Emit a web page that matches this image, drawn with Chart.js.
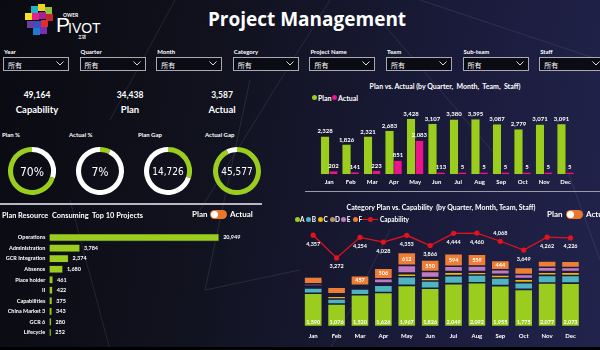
<!DOCTYPE html>
<html lang="en">
<head>
<meta charset="UTF-8">
<title>Project Management</title>
<script src="https://cdn.jsdelivr.net/npm/chart.js@4.4.0/dist/chart.umd.min.js"></script>
<style>
    html, body { margin: 0; padding: 0; }
    body {
        width: 600px; height: 350px; position: relative; overflow: hidden;
        background: linear-gradient(100deg, #0a0a11 0%, #11121e 35%, #1a1b3a 70%, #21234c 100%);
        font-family: Lato, "Open Sans", sans-serif; color: #fff;
    }
    .t { position: absolute; white-space: pre; font-weight: 700; line-height: 1; }
    .c { transform: translate(-50%, -50%); }
    .m { transform: translateY(-50%); }
    canvas { position: absolute; }
    .box { position: absolute; width: 64px; height: 12px; border: 1px solid #a9a9b8; background: #0b0b14; }
    .box span { position: absolute; left: 4px; top: 2px; font: 7px "Noto Sans CJK SC"; }
    .box svg { position: absolute; right: 4px; top: 3px; }
    .pill { position: absolute; width: 17px; height: 9px; border-radius: 5px; background: #e9782c; }
    .pill i { position: absolute; left: 1px; top: 1px; width: 7px; height: 7px; border-radius: 50%; background: #fff; }
    .dot { position: absolute; width: 5px; height: 5px; border-radius: 50%; }
    .rule { position: absolute; height: 1px; background: #9a9aa8; }
    .num { font-family: "DejaVu Sans Condensed", "DejaVu Sans", sans-serif; font-weight: 400; }
    .sq { position: absolute; width: 7px; height: 7px; }
</style>
</head>
<body>
<svg width="600" height="350" style="position:absolute;left:0;top:0" stroke="#8a8ca8" stroke-width="0.7" opacity="0.25">
    <line x1="175" y1="0" x2="110" y2="120"/>
    <line x1="330" y1="0" x2="200" y2="210"/>
    <line x1="250" y1="80" x2="205" y2="290"/>
    <line x1="205" y1="290" x2="300" y2="270"/>
    <line x1="70" y1="200" x2="110" y2="350"/>
    <line x1="380" y1="20" x2="500" y2="160"/>
    <line x1="420" y1="0" x2="600" y2="60"/>
    <line x1="560" y1="150" x2="600" y2="260"/>
    <line x1="390" y1="230" x2="330" y2="350"/>
</svg>

<!-- logo -->
<div class="sq" style="left:31px;top:6px;background:#19b6c9"></div>
<div class="sq" style="left:38px;top:4px;background:#f2d21a"></div>
<div class="sq" style="left:45px;top:7px;background:#8cc63f"></div>
<div class="sq" style="left:25px;top:13px;background:#f7e41e"></div>
<div class="sq" style="left:32px;top:13px;background:#e4208c"></div>
<div class="sq" style="left:39px;top:12px;background:#a4238f"></div>
<div class="sq" style="left:46px;top:14px;background:#c1272d"></div>
<div class="sq" style="left:27px;top:21px;background:#6a3fa0"></div>
<div class="sq" style="left:34px;top:21px;background:#3b4fc4"></div>
<div class="sq" style="left:41px;top:20px;background:#e42b2b"></div>
<div class="sq" style="left:33px;top:28px;background:#2079d1"></div>
<div class="sq" style="left:40px;top:27px;background:#7a2fb5"></div>
<div class="t" style="left:56px;top:14px;font-size:21px;font-weight:400;font-family:'Liberation Sans'">P</div>
<div class="t" style="left:63px;top:13px;font-size:5px">OWER</div>
<div class="t" style="left:68px;top:21px;font-size:14px;font-weight:400;font-family:'Liberation Sans'">IVOT</div>
<div class="t" style="left:78px;top:35px;font-size:4px;font-family:'Noto Sans CJK SC'">工坊</div>

<div class="t c" style="left:307px;top:19px;font-size:19px;font-family:'Open Sans'">Project Management</div>

<div id="filters"></div>

<!-- KPI cards -->
<div class="t c" style="left:37px;top:95px;font-size:8.5px" id="kCap"></div>
<div class="t c" style="left:37px;top:110px;font-size:9.5px">Capability</div>
<div class="t c" style="left:130px;top:95px;font-size:8.5px" id="kPlan"></div>
<div class="t c" style="left:130px;top:110px;font-size:9.5px">Plan</div>
<div class="t c" style="left:222px;top:95px;font-size:8.5px" id="kAct"></div>
<div class="t c" style="left:222px;top:110px;font-size:9.5px">Actual</div>

<div class="t m" style="left:2px;top:135px;font-size:6px">Plan %</div>
<div class="t m" style="left:69px;top:135px;font-size:6px">Actual %</div>
<div class="t m" style="left:138px;top:135px;font-size:6px">Plan Gap</div>
<div class="t m" style="left:205px;top:135px;font-size:6px">Actual Gap</div>

<canvas id="d1" width="48" height="48" style="left:8px;top:147px"></canvas>
<canvas id="d2" width="48" height="48" style="left:76px;top:147px"></canvas>
<canvas id="d3" width="48" height="48" style="left:144px;top:147px"></canvas>
<canvas id="d4" width="48" height="48" style="left:213px;top:147px"></canvas>
<div class="t c num" style="left:32px;top:172px;font-size:12px" id="c1"></div>
<div class="t c num" style="left:100px;top:172px;font-size:12px" id="c2"></div>
<div class="t c num" style="left:168px;top:172px;font-size:10px" id="c3"></div>
<div class="t c num" style="left:237px;top:172px;font-size:10px" id="c4"></div>

<!-- top right -->
<div class="t c" style="left:445px;top:86px;font-size:7px">Plan vs. Actual (by Quarter,  Month,  Team,  Staff)</div>
<div class="dot" style="left:312px;top:95px;background:#9acd1e"></div>
<div class="t m" style="left:318px;top:97.5px;font-size:7px">Plan</div>
<div class="dot" style="left:332px;top:95px;background:#e8168a"></div>
<div class="t m" style="left:338px;top:97.5px;font-size:7px">Actual</div>
<canvas id="monthChart" width="300" height="112" style="left:300px;top:80px"></canvas>
<div class="rule" style="left:305px;top:191px;width:295px"></div>

<!-- left bottom -->
<div class="rule" style="left:0;top:203px;width:262px;background:#b8b8c4;height:1.5px"></div>
<div class="t m" style="left:2px;top:216px;font-size:7.4px">Plan Resource  Consuming  Top 10 Projects</div>
<div class="t m" style="left:192px;top:214px;font-size:8px">Plan</div>
<div class="pill" style="left:210px;top:210px"><i></i></div>
<div class="t m" style="left:230px;top:214px;font-size:8px">Actual</div>
<canvas id="projChart" width="300" height="120" style="left:0;top:225px"></canvas>

<!-- right bottom -->
<div class="t c" style="left:441px;top:207px;font-size:7px">Category Plan vs. Capability  (by Quarter, Month, Team, Staff)</div>
<div class="t m" style="left:547px;top:214px;font-size:8px">Plan</div>
<div class="pill" style="left:566px;top:210px"><i></i></div>
<div class="t m" style="left:586px;top:214px;font-size:8px">Actual</div>
<div id="catLegend"></div>
<canvas id="catChart" width="305" height="126" style="left:295px;top:222px"></canvas>
<div style="position:absolute;left:0;top:347px;width:600px;height:3px;background:#000"></div>

<script>
    // ---- data ----
    var filterNames = ['Year', 'Quarter', 'Month', 'Category', 'Project Name', 'Team', 'Sub-team', 'Staff'];
    var capabilityTotal = 49164;
    var planTotal = 34438;
    var actualTotal = 3587;
    var planGap = 14726;
    var actualGap = 45577;

    var months = ['Jan', 'Feb', 'Mar', 'Apr', 'May', 'Jun', 'Jul', 'Aug', 'Sep', 'Oct', 'Nov', 'Dec'];
    var planByMonth = [2328, 1826, 2321, 2683, 3428, 3107, 3380, 3395, 3087, 2779, 3071, 3091];
    var actualByMonth = [202, 141, 223, 851, 2083, 113, 5, 5, 5, 5, 5, 5];

    var projects = ['Operations', 'Administration', 'GCR Integration', 'Absence', 'Place holder', 'II',
        'Capabilities', 'China Market 3', 'GCR 6', 'Lifecycle'];
    var projectPlan = [20949, 3784, 2374, 1680, 461, 422, 375, 343, 280, 252];

    var categories = ['A', 'B', 'C', 'D', 'E', 'F'];
    var catA = [1590, 1076, 1520, 1626, 1967, 1826, 2049, 2092, 1955, 1775, 2077, 2073];
    var catB = [250, 240, 275, 350, 410, 350, 380, 365, 365, 320, 365, 365];
    var catC = [70, 130, 75, 75, 140, 130, 170, 140, 140, 170, 155, 160];
    var catD = [25, 40, 25, 30, 30, 30, 30, 30, 30, 30, 30, 30];
    var catE = [100, 75, 75, 200, 370, 290, 250, 265, 220, 190, 205, 190];
    var catF = [330, 320, 457, 506, 612, 550, 594, 559, 444, 330, 300, 300];
    var capability = [4357, 3272, 4254, 4028, 4353, 3866, 4444, 4460, 4068, 3649, 4262, 4226];

    var green = '#9acd1e', white = '#ffffff';
    var catColors = ['#9acd1e', '#4fb4c0', '#efb30c', '#b29868', '#c07ac2', '#ee7e35'];

    function fmt(v) { return v.toLocaleString('en-US'); }

    // ---- html bits ----
    var chevron = '<svg width="8" height="5"><path d="M0.5 0.5 L4 4 L7.5 0.5" stroke="#ddd" fill="none" stroke-width="1"/></svg>';
    var fHtml = '';
    filterNames.forEach(function (name, i) {
        var x = 3 + i * 76.6;
        fHtml += '<div class="t m" style="left:' + (x + 1) + 'px;top:52px;font-size:6px">' + name + '</div>';
        fHtml += '<div class="box" style="left:' + x + 'px;top:57px"><span>所有</span>' + chevron + '</div>';
    });
    document.getElementById('filters').innerHTML = fHtml;

    var lHtml = '', lx = 294.5;
    categories.forEach(function (c, i) {
        lHtml += '<div class="dot" style="left:' + lx + 'px;top:217px;background:' + catColors[i] + '"></div>';
        lHtml += '<div class="t m" style="left:' + (lx + 5.5) + 'px;top:219.5px;font-size:6.5px">' + c + '</div>';
        lx += 11.7;
    });
    lHtml += '<div style="position:absolute;left:362px;top:219px;width:16px;height:1.2px;background:#e3121e"></div>';
    lHtml += '<div class="dot" style="left:367.5px;top:217px;background:#e3121e"></div>';
    lHtml += '<div class="t m" style="left:380px;top:219.5px;font-size:6.5px">Capability</div>';
    document.getElementById('catLegend').innerHTML = lHtml;

    document.getElementById('kCap').textContent = fmt(capabilityTotal);
    document.getElementById('kPlan').textContent = fmt(planTotal);
    document.getElementById('kAct').textContent = fmt(actualTotal);
    document.getElementById('c1').textContent = Math.round(planTotal / capabilityTotal * 100) + '%';
    document.getElementById('c2').textContent = Math.round(actualTotal / capabilityTotal * 100) + '%';
    document.getElementById('c3').textContent = fmt(planGap);
    document.getElementById('c4').textContent = fmt(actualGap);

    Chart.defaults.font.family = 'Lato, "Open Sans", sans-serif';
    Chart.defaults.color = '#fff';
    Chart.defaults.animation = false;

    // ---- donuts ----
    function donut(id, values, colors) {
        new Chart(document.getElementById(id), {
            type: 'doughnut',
            data: { datasets: [{ data: values, backgroundColor: colors, borderWidth: 0 }] },
            options: {
                responsive: false, cutout: '79%', events: [],
                plugins: { legend: { display: false }, tooltip: { enabled: false } }
            }
        });
    }
    donut('d1', [planGap, planTotal], [white, green]);
    donut('d2', [actualTotal, actualGap], [green, white]);
    donut('d3', [planGap, planTotal], [green, white]);
    donut('d4', [actualGap, actualTotal], [green, white]);

    // ---- plan vs actual by month ----
    var monthLabels = {
        id: 'monthLabels',
        afterDatasetsDraw: function (chart) {
            var ctx = chart.ctx;
            ctx.save();
            ctx.font = 'bold 6px Lato';
            ctx.fillStyle = '#fff';
            ctx.textAlign = 'center';
            ctx.textBaseline = 'bottom';
            chart.data.datasets.forEach(function (ds, i) {
                chart.getDatasetMeta(i).data.forEach(function (bar, j) {
                    ctx.fillText(fmt(ds.data[j]), bar.x, bar.y - 2);
                });
            });
            ctx.restore();
        }
    };
    new Chart(document.getElementById('monthChart'), {
        type: 'bar',
        data: {
            labels: months,
            datasets: [
                { label: 'Plan', data: planByMonth, backgroundColor: green, borderColor: '#2a3020', borderWidth: 0.5 },
                { label: 'Actual', data: actualByMonth, backgroundColor: '#e8168a', borderColor: '#4d0c40', borderWidth: 0.8,
                    minBarLength: 2 }
            ]
        },
        options: {
            responsive: false, events: [],
            datasets: { bar: { barThickness: 8.4 } },
            layout: { padding: { left: 18.5, right: 23.6, top: 29.5, bottom: 2.4 } },
            plugins: { legend: { display: false }, tooltip: { enabled: false } },
            scales: {
                x: { grid: { display: false, drawTicks: false }, border: { display: false },
                    ticks: { font: { size: 6, weight: 'bold' }, padding: 4.1, color: '#fff' } },
                y: { display: false, min: 0, max: 4000 }
            }
        },
        plugins: [monthLabels]
    });

    // ---- top 10 projects ----
    var projLabels = {
        id: 'projLabels',
        afterDatasetsDraw: function (chart) {
            var ctx = chart.ctx;
            ctx.save();
            ctx.font = 'bold 5.5px Lato';
            ctx.fillStyle = '#fff';
            ctx.textAlign = 'left';
            ctx.textBaseline = 'middle';
            chart.getDatasetMeta(0).data.forEach(function (bar, j) {
                ctx.fillText(fmt(projectPlan[j]), bar.x + 4, bar.y);
            });
            ctx.restore();
        }
    };
    new Chart(document.getElementById('projChart'), {
        type: 'bar',
        data: {
            labels: projects,
            datasets: [{ data: projectPlan, backgroundColor: green, borderColor: '#2a3020', borderWidth: 0.6,
                categoryPercentage: 0.74, barPercentage: 1 }]
        },
        options: {
            indexAxis: 'y', responsive: false, events: [],
            layout: { padding: { left: 0, right: 48, top: 4.4, bottom: 3.6 } },
            plugins: { legend: { display: false }, tooltip: { enabled: false } },
            scales: {
                x: { display: false, min: 0, max: 25000 },
                y: { grid: { display: false, drawTicks: false }, border: { display: false },
                    ticks: { font: { size: 5.5, weight: 'bold' }, padding: 4, color: '#fff' },
                    afterFit: function (scale) { scale.width = 49.3; } }
            }
        },
        plugins: [projLabels]
    });

    // ---- category plan vs capability ----
    var labelAbove = [8];
    var catLabels = {
        id: 'catLabels',
        afterDatasetsDraw: function (chart) {
            var ctx = chart.ctx;
            ctx.save();
            ctx.font = 'bold 5.5px Lato';
            ctx.fillStyle = '#fff';
            ctx.textAlign = 'center';
            chart.getDatasetMeta(0).data.forEach(function (bar, j) {
                ctx.textBaseline = 'bottom';
                ctx.fillText(fmt(catA[j]), bar.x, bar.base - 2);
            });
            chart.getDatasetMeta(5).data.forEach(function (bar, j) {
                if (catF[j] >= 400) {
                    ctx.textBaseline = 'middle';
                    ctx.fillText(fmt(catF[j]), bar.x, (bar.y + bar.base) / 2);
                }
            });
            chart.getDatasetMeta(6).data.forEach(function (pt, j) {
                if (labelAbove.indexOf(j) >= 0) {
                    ctx.textBaseline = 'bottom';
                    ctx.fillText(fmt(capability[j]), pt.x, pt.y - 5);
                } else {
                    ctx.textBaseline = 'top';
                    ctx.fillText(fmt(capability[j]), pt.x, pt.y + 6);
                }
            });
            ctx.restore();
        }
    };
    var catSeries = [catA, catB, catC, catD, catE, catF];
    var catDatasets = catSeries.map(function (vals, i) {
        return { type: 'bar', label: categories[i], data: vals, backgroundColor: catColors[i],
            borderColor: '#1b1d3c', borderWidth: 0.8, borderSkipped: false, stack: 's', order: 2,
            categoryPercentage: 0.78, barPercentage: 1 };
    });
    catDatasets.push({ type: 'line', label: 'Capability', data: capability, borderColor: '#e3121e',
        backgroundColor: '#e3121e', borderWidth: 1.3, pointRadius: 2.6, pointBorderWidth: 0, order: 1 });
    new Chart(document.getElementById('catChart'), {
        type: 'bar',
        data: { labels: months, datasets: catDatasets },
        options: {
            responsive: false, events: [],
            layout: { padding: { left: 6.5, right: 17.8, top: 6, bottom: 3.4 } },
            plugins: { legend: { display: false }, tooltip: { enabled: false } },
            scales: {
                x: { stacked: true, grid: { display: false, drawTicks: false }, border: { display: false },
                    ticks: { font: { size: 6, weight: 'bold' }, padding: 5.4, color: '#fff' } },
                y: { stacked: true, display: false, min: 0, max: 4700 }
            }
        },
        plugins: [catLabels]
    });
</script>
</body>
</html>
